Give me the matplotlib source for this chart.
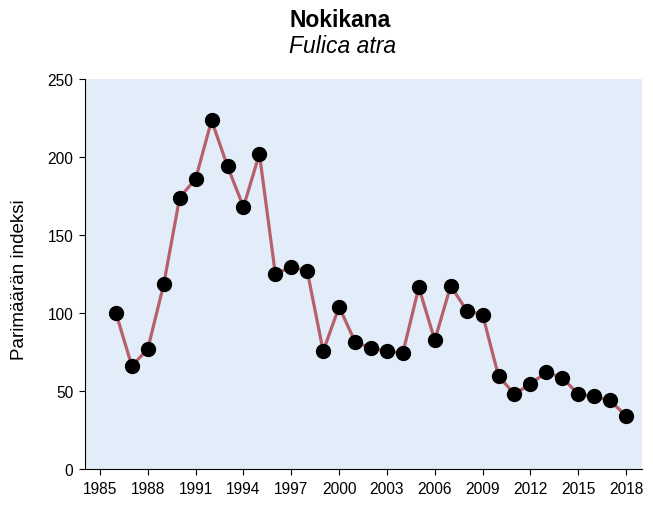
import numpy as np
import matplotlib
matplotlib.use('Agg')
import matplotlib.pyplot as plt

plt.rcParams['font.family'] = ['Liberation Sans', 'DejaVu Sans']

# data
years = list(range(1986, 2019))
index = [100, 66, 77, 118.5, 174, 186, 223.5, 194, 168, 202,
         125, 129.5, 127, 75.5, 104, 81.5, 77.5, 75.5, 74.5, 116.5,
         82.5, 117.5, 101.5, 99, 59.5, 48, 54.5, 62, 58.5, 48,
         46.5, 44, 34]
xticks = list(range(1985, 2019, 3))
yticks = [0, 50, 100, 150, 200, 250]

fig = plt.figure(figsize=(6.53, 5.06), dpi=100)
ax = fig.add_axes([85/653, 36/506, 557/653, 390/506])
ax.set_facecolor('#e3edf9')

ax.plot(years, index, '-', color='#b5606a', lw=2.3, zorder=2)
ax.plot(years, index, 'o', color='black', ms=10, zorder=3)

ax.set_xlim(1984.06, 2019.0)
ax.set_ylim(0, 250)
ax.set_xticks(xticks)
ax.set_yticks(yticks)
ax.tick_params(labelsize=11.2, length=4.5, color='black')
ax.tick_params(axis='x', pad=4.5)
ax.tick_params(axis='y', pad=4)
ax.spines['top'].set_visible(False)
ax.spines['right'].set_visible(False)
ax.set_ylabel('Parimäärän indeksi', fontsize=13.5)
ax.yaxis.set_label_coords(-57/557, 0.487)

fig.text(340/653, 1 - 27/506, 'Nokikana', ha='center', va='baseline', fontsize=16.5, fontweight='bold')
fig.text(343/653, 1 - 53/506, 'Fulica atra', ha='center', va='baseline', fontsize=16.5, style='italic')

fig.savefig('out.png', dpi=100)
